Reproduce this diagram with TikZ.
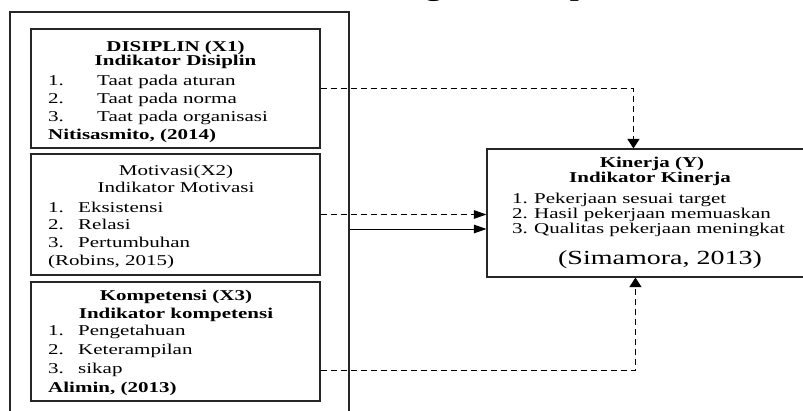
\documentclass[tikz,border=0pt]{standalone}
\usepackage{fontspec}
\setmainfont{Liberation Serif}
\usetikzlibrary{arrows.meta,calc}
\newcommand\StretchX[1]{\scalebox{1.4}[1]{#1}}
\begin{document}
\begin{tikzpicture}[x=1pt,y=1pt,
  box/.style={draw=black!85, line width=1.1pt, inner sep=0pt},
  txt/.style={inner sep=0pt, font=\fontsize{15}{18}\selectfont, anchor=base west},
  btxt/.style={inner sep=0pt, font=\fontsize{15}{18}\selectfont\bfseries, anchor=base west},
  ctr/.style={inner sep=0pt, font=\fontsize{15}{18}\selectfont, anchor=base},
  bctr/.style={inner sep=0pt, font=\fontsize{15}{18}\selectfont\bfseries, anchor=base},
  conn/.style={line width=1pt, black},
  dsh/.style={conn, dash pattern=on 6pt off 4pt},
  harr/.style={-{Triangle[length=12.5pt,width=8.5pt]}},
  varr/.style={-{Triangle[length=9.5pt,width=12pt]}},
]
\clip (0,0) rectangle (803,-410);
\fill[white] (0,0) rectangle (803,-410);

% cut-off title
\node[anchor=base west, inner sep=0pt, font=\fontsize{23}{26}\selectfont\bfseries] (title) at (338,4) {\StretchX{Kerangka Konseptual}};

% boxes
\node[box, minimum width=339pt, minimum height=418pt] (outer) at (179.5,-221) {};
\node[box, minimum width=289pt, minimum height=119pt] (b1) at (175.5,-88.5) {};
\node[box, minimum width=289pt, minimum height=121pt] (b2) at (175.5,-214.5) {};
\node[box, minimum width=289pt, minimum height=119pt] (b3) at (175.5,-341.5) {};
\node[box, minimum width=325pt, minimum height=128pt] (k) at (649.5,-213) {};

% box 1
\node[bctr] (t1a) at (175.5,-51) {\StretchX{DISIPLIN (X1)}};
\node[bctr] (t1b) at (175.5,-65) {\StretchX{Indikator Disiplin}};
\node[txt] (t1c) at (48,-85) {\StretchX{1.}};
\node[txt] (t1d) at (97,-85) {\StretchX{Taat pada aturan}};
\node[txt] (t1e) at (48,-103) {\StretchX{2.}};
\node[txt] (t1f) at (97,-103) {\StretchX{Taat pada norma}};
\node[txt] (t1g) at (48,-121) {\StretchX{3.}};
\node[txt] (t1h) at (97,-121) {\StretchX{Taat pada organisasi}};
\node[btxt] (t1i) at (48,-139) {\StretchX{Nitisasmito, (2014)}};

% box 2
\node[ctr] (t2a) at (176,-175) {\StretchX{Motivasi(X2)}};
\node[ctr] (t2b) at (176,-192) {\StretchX{Indikator Motivasi}};
\node[txt] (t2c) at (48,-212) {\StretchX{1.}};
\node[txt] (t2d) at (78,-212) {\StretchX{Eksistensi}};
\node[txt] (t2e) at (48,-229) {\StretchX{2.}};
\node[txt] (t2f) at (78,-229) {\StretchX{Relasi}};
\node[txt] (t2g) at (48,-247) {\StretchX{3.}};
\node[txt] (t2h) at (78,-247) {\StretchX{Pertumbuhan}};
\node[txt] (t2i) at (48,-265) {\StretchX{(Robins, 2015)}};

% box 3
\node[bctr] (t3a) at (176,-300) {\StretchX{Kompetensi (X3)}};
\node[bctr] (t3b) at (176,-318) {\StretchX{Indikator kompetensi}};
\node[txt] (t3c) at (48,-335) {\StretchX{1.}};
\node[txt] (t3d) at (78,-335) {\StretchX{Pengetahuan}};
\node[txt] (t3e) at (48,-354) {\StretchX{2.}};
\node[txt] (t3f) at (78,-354) {\StretchX{Keterampilan}};
\node[txt] (t3g) at (48,-373) {\StretchX{3.}};
\node[txt] (t3h) at (78,-373) {\StretchX{sikap}};
\node[btxt] (t3i) at (48,-392) {\StretchX{Alimin, (2013)}};

% Kinerja box
\node[bctr] (tka) at (652,-167) {\StretchX{Kinerja (Y)}};
\node[bctr] (tkb) at (650,-182) {\StretchX{Indikator Kinerja}};
\node[txt] (tkc) at (512,-203) {\StretchX{1.}};
\node[txt] (tkd) at (534,-203) {\StretchX{Pekerjaan sesuai target}};
\node[txt] (tke) at (512,-218) {\StretchX{2.}};
\node[txt] (tkf) at (534,-218) {\StretchX{Hasil pekerjaan memuaskan}};
\node[txt] (tkg) at (512,-233) {\StretchX{3.}};
\node[txt] (tkh) at (534,-233) {\StretchX{Qualitas pekerjaan meningkat}};
\node[inner sep=0pt, anchor=base, font=\fontsize{20}{24}\selectfont] (tki) at (660,-264) {\StretchX{(Simamora, 2013)}};

% connectors
\draw[dsh, varr] (b1.east) -| ([xshift=147pt]k.north west);
\draw[dsh, harr] (b2.east) -- (b2.east -| k.west);
\draw[conn, harr] ([yshift=-14.5pt]b2.east -| outer.east) -- ([yshift=-14.5pt]b2.east -| k.west);
\draw[dsh, varr] ([yshift=-28.5pt]b3.east) -| ([xshift=149pt]k.south west);
\end{tikzpicture}
\end{document}
